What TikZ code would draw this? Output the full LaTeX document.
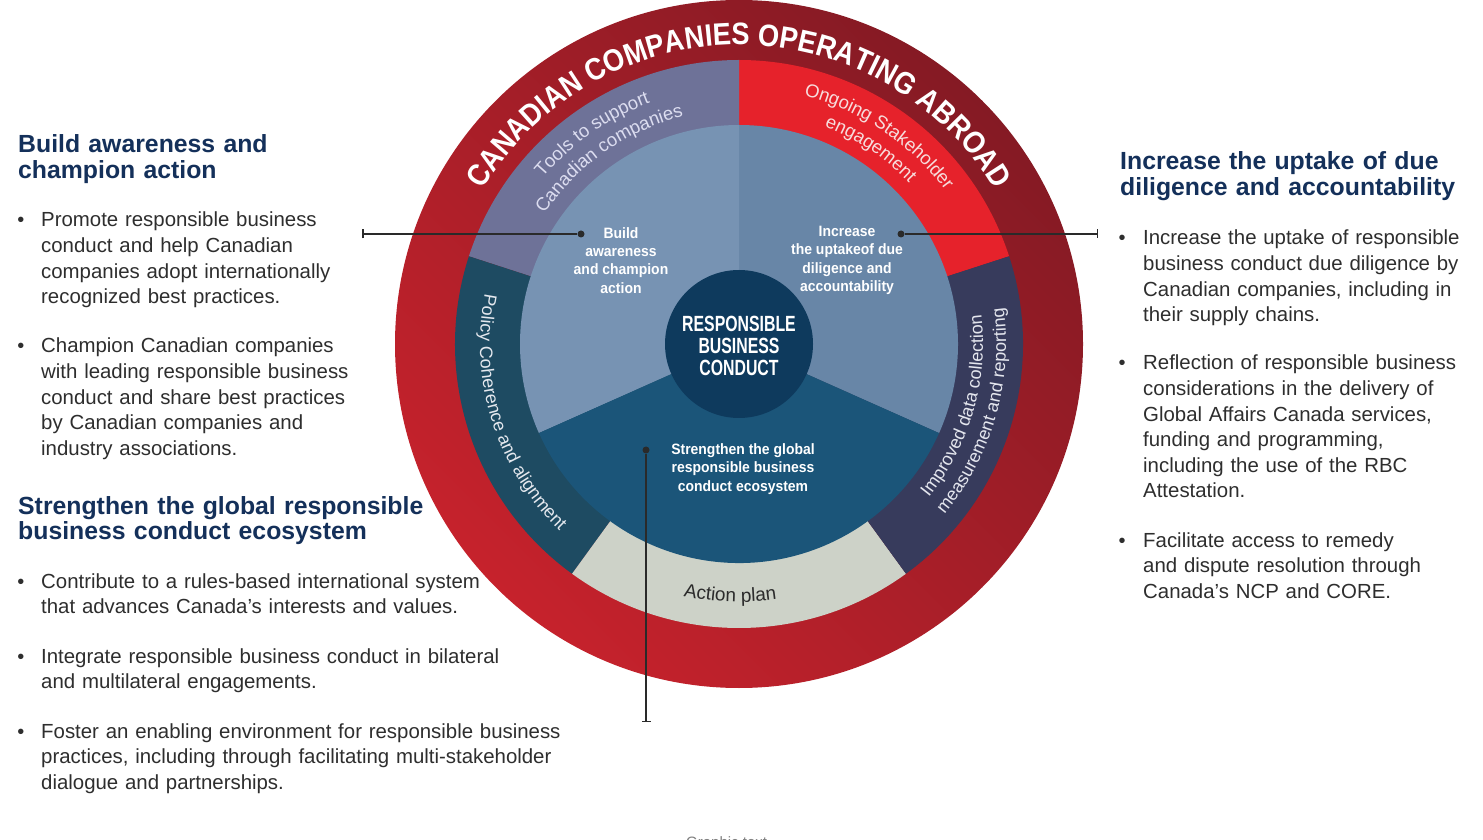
\documentclass[tikz,border=0pt]{standalone}
\usepackage{fontspec}
\setmainfont{Liberation Sans}
\newfontfamily\titlefont{Liberation Sans}[FakeStretch=0.88]
\newfontfamily\corefont{Liberation Sans}[FakeStretch=0.72]
\newfontfamily\piefont{Liberation Sans}[FakeStretch=0.93]
\usetikzlibrary{arrows.meta,decorations.text}

\definecolor{ringlight}{HTML}{C6222C}
\definecolor{ringdark}{HTML}{851A24}
\definecolor{toolcol}{HTML}{6E7298}
\definecolor{stakecol}{HTML}{E6222B}
\definecolor{policycol}{HTML}{1E4B62}
\definecolor{actioncol}{HTML}{CDD2C8}
\definecolor{datacol}{HTML}{373B5C}
\definecolor{buildcol}{HTML}{7793B3}
\definecolor{increasecol}{HTML}{6886A7}
\definecolor{strengthcol}{HTML}{1B5579}
\definecolor{corecol}{HTML}{0E3A5D}
\definecolor{headcol}{HTML}{14305A}
\definecolor{bodycol}{HTML}{2E2E2E}
\definecolor{linecol}{HTML}{2A2A2A}

\begin{document}
\begin{tikzpicture}[x=1pt, y=1pt,
  head/.style={anchor=base west, inner sep=0, text width=460, align=left, text=headcol, font=\fontsize{24.8}{26}\selectfont\bfseries},
  body/.style={anchor=base west, inner sep=0, text width=560, align=left, text=bodycol, font=\fontsize{20.4}{25.6}\selectfont},
  bullet/.style={anchor=base, inner sep=0, text=bodycol, font=\fontsize{20}{25.6}\selectfont},
  pietext/.style={align=center, inner sep=0, text=white, font=\piefont\fontsize{15}{18.2}\selectfont\bfseries},
  dot/.style={circle, fill=linecol, inner sep=0, minimum size=7pt},
  leader/.style={linecol, line width=1.5pt, -{Bar[width=9pt]}}
]

\useasboundingbox[fill=white] (0,0) rectangle (1483,839);

\begin{scope}[shift={(739,495)}]

%% Outer ring
\shade[top color=ringdark, bottom color=ringlight, shading angle=-45] (0,0) circle[radius=344];

%% Middle ring
\fill[stakecol]  (0,0) -- (18:284)  arc[start angle=18,  end angle=90,  radius=284] -- cycle;
\fill[toolcol]   (0,0) -- (90:284)  arc[start angle=90,  end angle=162, radius=284] -- cycle;
\fill[policycol] (0,0) -- (162:284) arc[start angle=162, end angle=234, radius=284] -- cycle;
\fill[actioncol] (0,0) -- (234:284) arc[start angle=234, end angle=306, radius=284] -- cycle;
\fill[datacol]   (0,0) -- (306:284) arc[start angle=306, end angle=378, radius=284] -- cycle;

%% Inner pie
\fill[increasecol] (0,0) -- (-24:219) arc[start angle=-24, end angle=90,  radius=219] -- cycle;
\fill[buildcol]    (0,0) -- (90:219)  arc[start angle=90,  end angle=204, radius=219] -- cycle;
\fill[strengthcol] (0,0) -- (204:219) arc[start angle=204, end angle=336, radius=219] -- cycle;

%% Core
\fill[corecol] (0,0) circle[radius=74];
\node[align=center, inner sep=0, text=white, font=\corefont\fontsize{22}{22}\selectfont\bfseries] (rbc) at (0,-2) {RESPONSIBLE\\BUSINESS\\CONDUCT};

\node[pietext] (build)      at (-118,83.5) {Build\\awareness\\and champion\\action};
\node[pietext] (increase)   at (108,83.5)  {Increase\\the uptakeof due\\diligence and\\accountability};
\node[pietext] (strengthen) at (4,-125)    {Strengthen the global\\responsible business\\conduct ecosystem};

%% Ring titles
\path[decorate, decoration={text along path, text align=center,
  text={|\titlefont\fontsize{31}{33}\selectfont\bfseries\color{white}|CANADIAN COMPANIES OPERATING ABROAD}}]
  (170:299) arc[start angle=170, end angle=10, radius=299];

\path[decorate, decoration={text along path, text align=center,
  text={|\fontsize{18.5}{20}\selectfont\color[HTML]{DCDDF0}|Tools to support}}]
  (170:257) arc[start angle=170, end angle=80, radius=257];
\path[decorate, decoration={text along path, text align=center,
  text={|\fontsize{18.5}{20}\selectfont\color[HTML]{DCDDF0}|Canadian companies}}]
  (170:234) arc[start angle=170, end angle=80, radius=234];

\path[decorate, decoration={text along path, text align=center,
  text={|\fontsize{18.5}{20}\selectfont\color[HTML]{F7DCDC}|Ongoing Stakeholder}}]
  (101:257) arc[start angle=101, end angle=11, radius=257];
\path[decorate, decoration={text along path, text align=center,
  text={|\fontsize{18.5}{20}\selectfont\color[HTML]{F7DCDC}|engagement}}]
  (101:234) arc[start angle=101, end angle=11, radius=234];

\path[decorate, decoration={text along path, text align=center,
  text={|\fontsize{18}{20}\selectfont\color[HTML]{E4E8EE}|Policy Coherence and alignment}}]
  (152:259) arc[start angle=152, end angle=243, radius=259];

\path[decorate, decoration={text along path, text align=center,
  text={|\fontsize{18}{20}\selectfont\color[HTML]{E4E6EE}|Improved data collection}}]
  (-61:244) arc[start angle=-61, end angle=29, radius=244];
\path[decorate, decoration={text along path, text align=center,
  text={|\fontsize{18}{20}\selectfont\color[HTML]{E4E6EE}|measurement and reporting}}]
  (-61:267) arc[start angle=-61, end angle=29, radius=267];

\path[decorate, decoration={text along path, text align=center,
  text={|\fontsize{19}{20}\selectfont\color[HTML]{2B2B2B}|Action plan}}]
  (228:258) arc[start angle=228, end angle=308, radius=258];

\end{scope}

%% Leaders
\node[dot] (dotL) at (581,605) {};
\node[dot] (dotR) at (901,605) {};
\node[dot] (dotS) at (646,389) {};
\coordinate (endL) at (362,605);
\coordinate (endR) at (1098,605);
\coordinate (endS) at (646,117);
\draw[leader] (dotL) -- (endL);
\draw[leader] (dotR) -- (endR);
\draw[leader] (dotS) -- (endS);

%% Left column
\node[head] (hBuild) at (18,686) {Build awareness and\\champion action};
\node[bullet] (bA1) at (21,612) {\textbullet};
\node[body] (tA1) at (41,612) {Promote responsible business\\conduct and help Canadian\\companies adopt internationally\\recognized best practices.};
\node[bullet] (bA2) at (21,486) {\textbullet};
\node[body] (tA2) at (41,486) {Champion Canadian companies\\with leading responsible business\\conduct and share best practices\\by Canadian companies and\\industry associations.};

\node[head] (hStrength) at (18,325) {Strengthen the global responsible\\business conduct ecosystem};
\node[bullet] (bB1) at (21,251) {\textbullet};
\node[body] (tB1) at (41,251) {Contribute to a rules-based international system\\that advances Canada's interests and values.};
\node[bullet] (bB2) at (21,176) {\textbullet};
\node[body] (tB2) at (41,176) {Integrate responsible business conduct in bilateral\\and multilateral engagements.};
\node[bullet] (bB3) at (21,101) {\textbullet};
\node[body] (tB3) at (41,101) {Foster an enabling environment for responsible business\\practices, including through facilitating multi-stakeholder\\dialogue and partnerships.};

%% Right column
\node[head] (hIncrease) at (1120,669) {Increase the uptake of due\\diligence and accountability};
\node[bullet] (bC1) at (1122,594) {\textbullet};
\node[body] (tC1) at (1143,594) {Increase the uptake of responsible\\business conduct due diligence by\\Canadian companies, including in\\their supply chains.};
\node[bullet] (bC2) at (1122,469) {\textbullet};
\node[body] (tC2) at (1143,469) {Reflection of responsible business\\considerations in the delivery of\\Global Affairs Canada services,\\funding and programming,\\including the use of the RBC\\Attestation.};
\node[bullet] (bC3) at (1122,292) {\textbullet};
\node[body] (tC3) at (1143,292) {Facilitate access to remedy\\and dispute resolution through\\Canada's NCP and CORE.};

%% Caption, cut off at the bottom
\node[anchor=north west, inner sep=0, text=gray, font=\fontsize{15}{18}\selectfont] (gtext) at (686,3) {Graphic text};

\end{tikzpicture}
\end{document}
